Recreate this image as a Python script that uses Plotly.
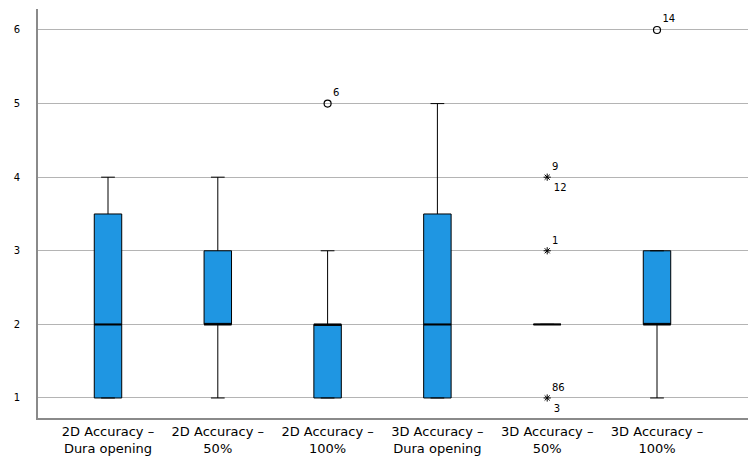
import plotly.graph_objects as go

categories = ["2D Accuracy –<br>Dura opening", "2D Accuracy –<br>50%", "2D Accuracy –<br>100%",
              "3D Accuracy –<br>Dura opening", "3D Accuracy –<br>50%", "3D Accuracy –<br>100%"]
q1 = [1, 2, 1, 1, 2, 2]
median = [2, 2, 2, 2, 2, 2]
q3 = [3.5, 3, 2, 3.5, 2, 3]
lower = [1, 1, 1, 1, 2, 1]
upper = [4, 4, 3, 5, 2, 3]

# outliers (circles) and extremes (stars): group index, value, case labels
circle_group = [2, 5]
circle_value = [5, 6]
circle_label = ["6", "14"]
star_group = [4, 4, 4]
star_value = [4, 3, 1]
star_label_above = ["9", "1", "86"]
star_label_below = ["12", "", "3"]

pos = list(range(len(categories)))
box_color = "#1f96e2"

fig = go.Figure()
fig.add_trace(go.Box(
    x=pos, q1=q1, median=median, q3=q3,
    lowerfence=lower, upperfence=upper,
    fillcolor=box_color,
    line=dict(color="black", width=1),
    width=0.25, whiskerwidth=0.5,
    boxpoints=False, hoverinfo="skip",
))
# thicker median line drawn on top
fig.add_trace(go.Box(
    x=pos, q1=median, median=median, q3=median,
    lowerfence=median, upperfence=median,
    fillcolor="rgba(0,0,0,0)",
    line=dict(color="black", width=2),
    width=0.25, whiskerwidth=0,
    boxpoints=False, hoverinfo="skip",
))
fig.add_trace(go.Scatter(
    x=circle_group, y=circle_value, mode="markers+text",
    marker=dict(symbol="circle-open", size=7, color="black", line=dict(width=1.2)),
    text=circle_label, textposition="top right",
    textfont=dict(size=10, color="black"),
))
fig.add_trace(go.Scatter(
    x=star_group, y=star_value, mode="markers+text",
    marker=dict(symbol="asterisk-open", size=6, color="black", line=dict(width=1, color="black")),
    text=star_label_above, textposition="top right",
    textfont=dict(size=10, color="black"),
))
fig.add_trace(go.Scatter(
    x=star_group, y=star_value, mode="markers+text",
    marker=dict(size=9, color="rgba(0,0,0,0)"),
    text=star_label_below, textposition="bottom right",
    textfont=dict(size=10, color="black"),
))

# page body adds an 8px offset, so the figure is 8px smaller
fig.update_layout(
    width=748, height=451,
    margin=dict(l=30, r=6, t=1, b=41),
    plot_bgcolor="white", paper_bgcolor="white",
    showlegend=False, boxmode="overlay",
    font=dict(family="DejaVu Sans", color="black"),
)
fig.update_xaxes(
    range=[-0.6375, 5.847], tickvals=pos, ticktext=categories,
    showgrid=False, zeroline=False, automargin=False,
    showline=True, linecolor="#8a8a8a", linewidth=2,
    ticks="", tickfont=dict(size=13),
)
fig.update_yaxes(
    range=[0.728, 6.285], tickvals=[1, 2, 3, 4, 5, 6],
    showgrid=True, gridcolor="#b4b4b4", gridwidth=1, zeroline=False, automargin=False,
    showline=True, linecolor="#8a8a8a", linewidth=2,
    ticks="", tickfont=dict(size=10), ticklabelstandoff=14,
)

fig.write_html("out.html")
